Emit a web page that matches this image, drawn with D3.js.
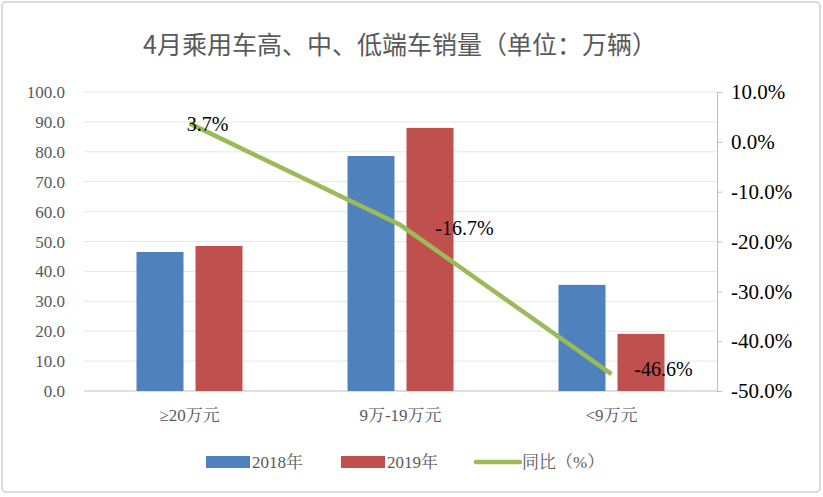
<!DOCTYPE html><html><head><meta charset="utf-8">
<script src="https://cdn.jsdelivr.net/npm/d3@7"></script>
<style>body{margin:0;background:#fff}svg text{font-family:"Liberation Serif","Noto Serif CJK SC","Noto Sans CJK SC",serif}</style></head><body>
<svg id="c" width="823" height="497"></svg>
<script>
const categories=["≥20万元","9万-19万元","<9万元"];
const sales2018=[46.5,78.6,35.5];
const sales2019=[48.5,88.0,19.1];
const yoy=[3.7,-16.7,-46.6];
const yoyLabels=["3.7%","-16.7%","-46.6%"];
const leftTicks=[0,10,20,30,40,50,60,70,80,90,100];
const rightTicks=[10,0,-10,-20,-30,-40,-50];
const svg=d3.select("#c");
svg.append("rect").attr("x",2).attr("y",2).attr("width",818).attr("height",490).attr("rx",4).attr("fill","#fff").attr("stroke","#d0d0d0").attr("stroke-width",1.5);
svg.append("text").attr("x",400).attr("y",54).attr("text-anchor","middle").attr("font-size",25).attr("fill","#595959").style("font-family",'"Noto Sans CJK SC",sans-serif').text("4月乘用车高、中、低端车销量（单位：万辆）");
const L=84,R=717,T=92,B=391;
const x=d3.scaleBand().domain(categories).range([L,R]);
const y=d3.scaleLinear().domain([0,100]).range([B,T]);
const y2=d3.scaleLinear().domain([-50,10]).range([B,T]);
svg.append("g").selectAll("line").data(leftTicks).join("line").attr("x1",L).attr("x2",R).attr("y1",d=>y(d)).attr("y2",d=>y(d)).attr("stroke",d=>d===0?"#bfbfbf":"#e6e6e6");
svg.append("g").selectAll("text").data(leftTicks).join("text").attr("x",65).attr("y",d=>y(d)+6).attr("text-anchor","end").attr("font-size",17).attr("fill","#595959").text(d=>d.toFixed(1));
const ra=svg.append("g").attr("transform",`translate(${R},0)`).call(d3.axisRight(y2).tickValues(rightTicks).tickSize(5).tickFormat(d=>d.toFixed(1)+"%"));
ra.select(".domain").attr("stroke","#bfbfbf");ra.selectAll("line").attr("stroke","#bfbfbf");
ra.selectAll("text").attr("font-size",21).attr("fill","#000").attr("x",14).style("font-family",'"Liberation Serif",serif');
const bw=47;
const sub=[{v:sales2018,c:"#4f81bd",o:-53},{v:sales2019,c:"#c0504d",o:6}];
sub.forEach(s=>svg.append("g").selectAll("rect").data(categories).join("rect").attr("x",(d)=>x(d)+x.bandwidth()/2+s.o).attr("width",bw).attr("y",(d,i)=>y(s.v[i])).attr("height",(d,i)=>B-y(s.v[i])).attr("fill",s.c));
svg.append("g").selectAll("text").data(categories).join("text").attr("x",d=>x(d)+x.bandwidth()/2).attr("y",421).attr("text-anchor","middle").attr("font-size",17).attr("fill","#595959").text(d=>d);
const line=d3.line().x((d,i)=>x(categories[i])+x.bandwidth()/2).y(d=>y2(d));
svg.append("path").datum(yoy).attr("d",line).attr("fill","none").attr("stroke","#9bbb59").attr("stroke-width",4.5);
const lo=[[18,8],[64,10],[52,2]];
svg.append("g").selectAll("text").data(yoy).join("text").attr("x",(d,i)=>x(categories[i])+x.bandwidth()/2+lo[i][0]).attr("y",(d,i)=>y2(d)+lo[i][1]).attr("text-anchor","middle").attr("font-size",20).attr("fill","#000").text((d,i)=>yoyLabels[i]);
const lg=svg.append("g");
lg.append("rect").attr("x",206).attr("y",456).attr("width",44).attr("height",12).attr("fill","#4f81bd");
lg.append("text").attr("x",252).attr("y",468).attr("font-size",17).attr("fill","#595959").text("2018年");
lg.append("rect").attr("x",341).attr("y",456).attr("width",44).attr("height",12).attr("fill","#c0504d");
lg.append("text").attr("x",387).attr("y",468).attr("font-size",17).attr("fill","#595959").text("2019年");
lg.append("line").attr("x1",476).attr("x2",520).attr("y1",462).attr("y2",462).attr("stroke","#9bbb59").attr("stroke-width",4.5).attr("stroke-linecap","round");
lg.append("text").attr("x",522).attr("y",468).attr("font-size",17).attr("fill","#595959").text("同比（%）");
</script></body></html>
